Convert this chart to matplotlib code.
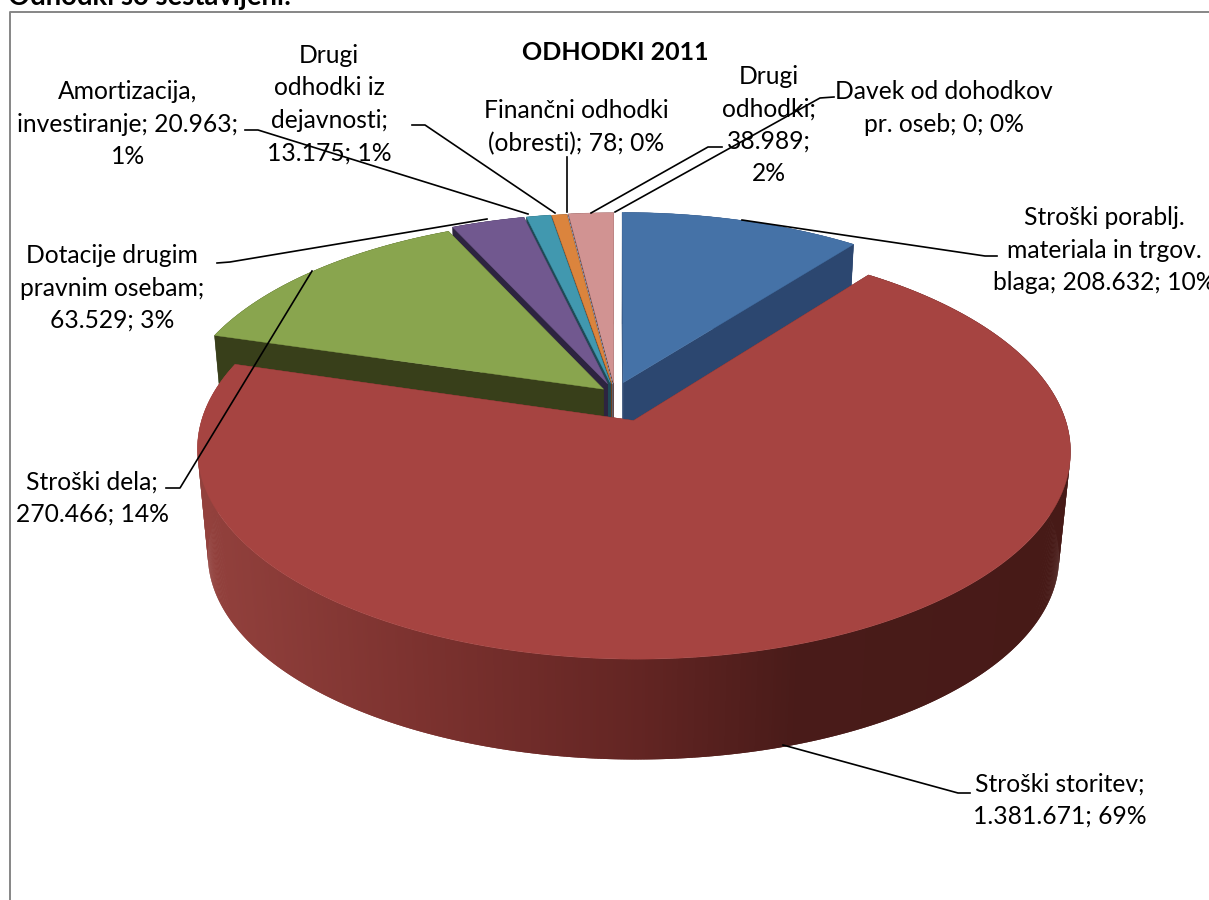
import numpy as np
import matplotlib
matplotlib.use("Agg")
import matplotlib.pyplot as plt

plt.rcParams['font.family'] = ['Lato', 'DejaVu Sans']

# chart data, clockwise from 12 o'clock
categories = ["Stroški porablj. materiala in trgov. blaga", "Stroški storitev", "Stroški dela",
              "Dotacije drugim pravnim osebam", "Amortizacija, investiranje",
              "Drugi odhodki iz dejavnosti", "Finančni odhodki (obresti)", "Drugi odhodki",
              "Davek od dohodkov pr. oseb"]
values = [208632, 1381671, 270466, 63529, 20963, 13175, 78, 38989, 0]
labels = ["Stroški porablj.\nmateriala in trgov.\nblaga; 208.632; 10%",
          "Stroški storitev;\n1.381.671; 69%",
          "Stroški dela;\n270.466; 14%",
          "Dotacije drugim\npravnim osebam;\n63.529; 3%",
          "Amortizacija,\ninvestiranje; 20.963;\n1%",
          "Drugi\nodhodki iz\ndejavnosti;\n13.175; 1%",
          "Finančni odhodki\n(obresti); 78; 0%",
          "Drugi\nodhodki;\n38.989;\n2%",
          "Davek od dohodkov\npr. oseb; 0; 0%"]
title = "ODHODKI 2011"
heading = "Odhodki so sestavljeni:"

# styles
top_colors = ["#4572a7", "#a64441", "#89a54e", "#71588f", "#4198af", "#db843d", "#93a9cf", "#d19392", "#a4bed4"]
side_colors = ["#2c4770", "#6a2a28", "#383f1a", "#2d2440", "#1f4a56", "#6e4020", "#5c6a82", "#5f4140", "#666666"]
explode = [0.06, 0.14, 0.036, 0.054, 0.054, 0.052, 0.05, 0.055, 0.055]
label_pos = [(1104, 250), (1060, 800), (92, 498), (112, 288), (128, 124),
             (329, 104), (576, 127), (769, 125), (944, 108)]
leaders = [[(742, 220), (985, 256), (997, 256)],
           [(783, 745), (958, 793), (970, 793)],
           [(312, 271), (180, 488), (166, 488)],
           [(487, 219), (230, 262), (217, 263)],
           [(528, 214), (258, 130), (245, 130)],
           [(555, 213), (425, 125), (412, 125)],
           [(567, 212), (567, 157)],
           [(591, 213), (708, 147), (722, 147)],
           [(615, 212), (820, 98), (834, 97)]]

# pie projection, in pixels
BX, BY = 615, 393.8
RX, RY, PERSP = 424, 197, 0.14
DROP, SHRINK = 107, 0.975
FONT = 17.7


def project(u, v, bottom=False):
    x = BX + RX * u / (1 + PERSP * v)
    y = BY - RY * v / (1 + PERSP * v)
    if bottom:
        x = BX + (x - BX) * SHRINK
        y = BY + (y - BY) * SHRINK + DROP
    return x, y


def wall_color(x):
    stops_x = [197, 420, 640, 800, 1070]
    stops = np.array([[0x93, 0x41, 0x3d], [0x7c, 0x32, 0x2f], [0x63, 0x25, 0x23],
                      [0x49, 0x1b, 0x19], [0x47, 0x1a, 0x17]]) / 255
    return [np.interp(x, stops_x, stops[:, i]) for i in range(3)]


fig = plt.figure(figsize=(12.09, 9), dpi=100)
ax = fig.add_axes([0, 0, 1, 1])
ax.set_xlim(0, 1209)
ax.set_ylim(900, 0)
ax.axis("off")

# chart frame, runs off the crop on the right and bottom
ax.plot([10, 10, 1209], [900, 12, 12], color="#868686", lw=1.4, zorder=1)

angles = np.concatenate([[0], np.cumsum(values)]) / sum(values) * 2 * np.pi

# far slices first, the big front one last
order = [7, 6, 5, 4, 3, 2, 0, 1]
z = 2
for i in order:
    a0, a1 = angles[i], angles[i + 1]
    mid = (a0 + a1) / 2
    ou, ov = explode[i] * np.sin(mid), explode[i] * np.cos(mid)
    th = np.linspace(a0, a1, max(int(np.degrees(a1 - a0)) * 3, 2) + 1)
    eu, ev = ou + np.sin(th), ov + np.cos(th)
    tx, ty = project(eu, ev)
    bx, by = project(eu, ev, bottom=True)
    ax0, ay0 = project(ou, ov)
    bx0, by0 = project(ou, ov, bottom=True)

    # cut faces
    for k in (0, -1):
        ax.fill([ax0, tx[k], bx[k], bx0], [ay0, ty[k], by[k], by0], color=side_colors[i], lw=0.3, zorder=z)
    # outer wall, quads overlap by one step so no seams show
    for k in range(len(th) - 1):
        e = min(k + 2, len(th) - 1)
        c = wall_color(tx[k]) if i == 1 else side_colors[i]
        ax.fill([tx[k], tx[e], bx[e], bx[k]], [ty[k], ty[e], by[e], by[k]], color=c, lw=0, zorder=z)
    # top face
    ax.fill(np.r_[ax0, tx], np.r_[ay0, ty], color=top_colors[i], lw=0.3, zorder=z + 0.5)
    z += 1

for pts in leaders:
    xs, ys = zip(*pts)
    ax.plot(xs, ys, color="black", lw=1.2, zorder=20, solid_joinstyle="round")

for text, (x, y) in zip(labels, label_pos):
    ax.text(x, y, text, ha="center", va="center", fontsize=FONT, color="black",
            linespacing=1.5, zorder=21)

ax.text(615, 52, title, ha="center", va="center", fontsize=18, fontweight="bold", color="black", zorder=21)
ax.text(8, -3, heading, ha="left", va="center", fontsize=19.8, fontweight="bold", color="black", zorder=21)

fig.savefig("out.png", dpi=100, facecolor="white")
